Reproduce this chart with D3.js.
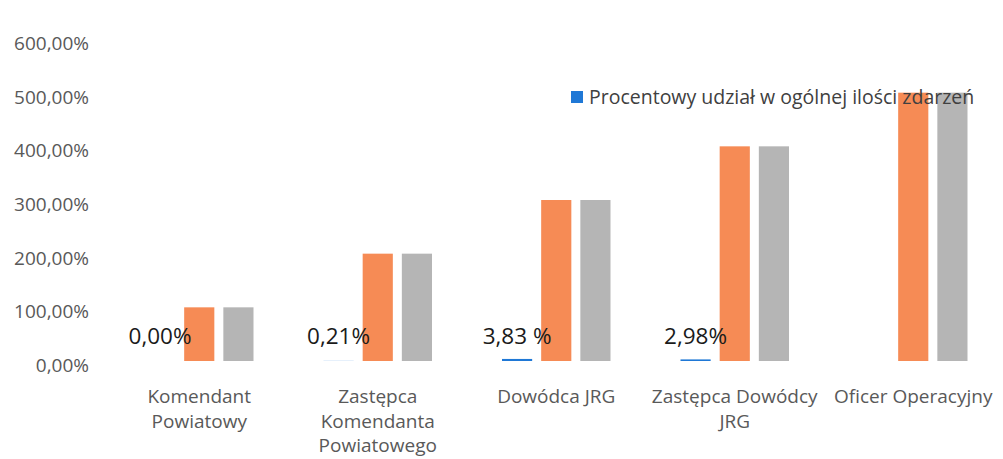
<!DOCTYPE html>
<html>
<head>
<meta charset="utf-8">
<script src="https://cdn.jsdelivr.net/npm/d3@7"></script>
<style>
  body { margin: 0; background: #fff; }
  text { font-family: "Open Sans", sans-serif; }
</style>
</head>
<body>
<div id="chart"></div>
<script>
var categories = [["Komendant", "Powiatowy"], ["Zastępca", "Komendanta", "Powiatowego"], ["Dowódca JRG"], ["Zastępca Dowódcy", "JRG"], ["Oficer Operacyjny"]];
var shareValues = [0, 0.21, 3.83, 2.98, 0];
var shareLabels = ["0,00%", "0,21%", "3,83 %", "2,98%", null];
var orangeValues = [100, 200, 300, 400, 500];
var grayValues = [100, 200, 300, 400, 500];
var yTicks = [0, 100, 200, 300, 400, 500, 600];
var legendLabel = "Procentowy udział w ogólnej ilości zdarzeń";

function init() {
    var W = 1003, H = 459;
    var svg = d3.select("#chart").append("svg")
        .attr("width", W).attr("height", H);

    var series = [
        { key: "share", values: shareValues, color: "#1f78d6" },
        { key: "orange", values: orangeValues, color: "#f68b55" },
        { key: "gray", values: grayValues, color: "#b5b5b5" }
    ];

    // scales
    var x0 = d3.scaleBand()
        .domain(d3.range(categories.length))
        .range([110, 1002.5])
        .padding(0);

    var x1 = d3.scaleBand()
        .domain(series.map(s => s.key))
        .range([35, x0.bandwidth() - 35])
        .paddingInner(0.23)
        .paddingOuter(0);

    var y = d3.scaleLinear().domain([0, 600]).range([361, 39]);

    // y axis labels (no axis line, no grid)
    var yAxis = svg.append("g")
        .attr("transform", "translate(89,0)")
        .call(d3.axisLeft(y).tickValues(yTicks).tickSize(0).tickPadding(0)
            .tickFormat(d => d3.format(".2f")(d).replace(".", ",") + "%"));
    yAxis.select(".domain").remove();
    yAxis.selectAll("text")
        .attr("dy", "0.55em")
        .style("font-size", "19px")
        .style("fill", "#595959");

    // bars
    var groups = svg.selectAll("g.cat")
        .data(categories)
        .enter().append("g")
        .attr("class", "cat")
        .attr("transform", (d, i) => `translate(${x0(i)},0)`);

    groups.selectAll("rect")
        .data((d, i) => series.map(s => ({ key: s.key, color: s.color, v: s.values[i] })))
        .enter().append("rect")
        .attr("x", d => x1(d.key))
        .attr("width", x1.bandwidth())
        .attr("y", d => y(d.v))
        .attr("height", d => y(0) - y(d.v))
        .attr("fill", d => d.color);

    // data labels for the share series
    groups.append("text")
        .filter((d, i) => shareLabels[i] != null)
        .attr("x", x1("share") + x1.bandwidth() / 2)
        .attr("y", y(0) - 17)
        .attr("text-anchor", "middle")
        .style("font-size", "22.5px")
        .style("fill", "#1a1a1a")
        .text((d, i) => shareLabels[i]);

    // category labels
    var cat = svg.append("g");
    categories.forEach(function(lines, i) {
        var t = cat.append("text")
            .attr("x", x0(i) + x0.bandwidth() / 2)
            .attr("y", 403)
            .attr("text-anchor", "middle")
            .style("font-size", "19px")
            .style("fill", "#595959");
        lines.forEach(function(l, j) {
            t.append("tspan")
                .attr("x", x0(i) + x0.bandwidth() / 2)
                .attr("dy", j === 0 ? 0 : 24.5)
                .text(l);
        });
    });

    // legend (only the share series)
    var legend = svg.append("g").attr("transform", "translate(571,91)");
    legend.append("rect")
        .attr("width", 12).attr("height", 12)
        .attr("fill", series[0].color);
    legend.append("text")
        .attr("x", 18).attr("y", 12.5)
        .style("font-size", "19.5px")
        .style("fill", "#404040")
        .text(legendLabel);
}

window.onload = init;
</script>
</body>
</html>
